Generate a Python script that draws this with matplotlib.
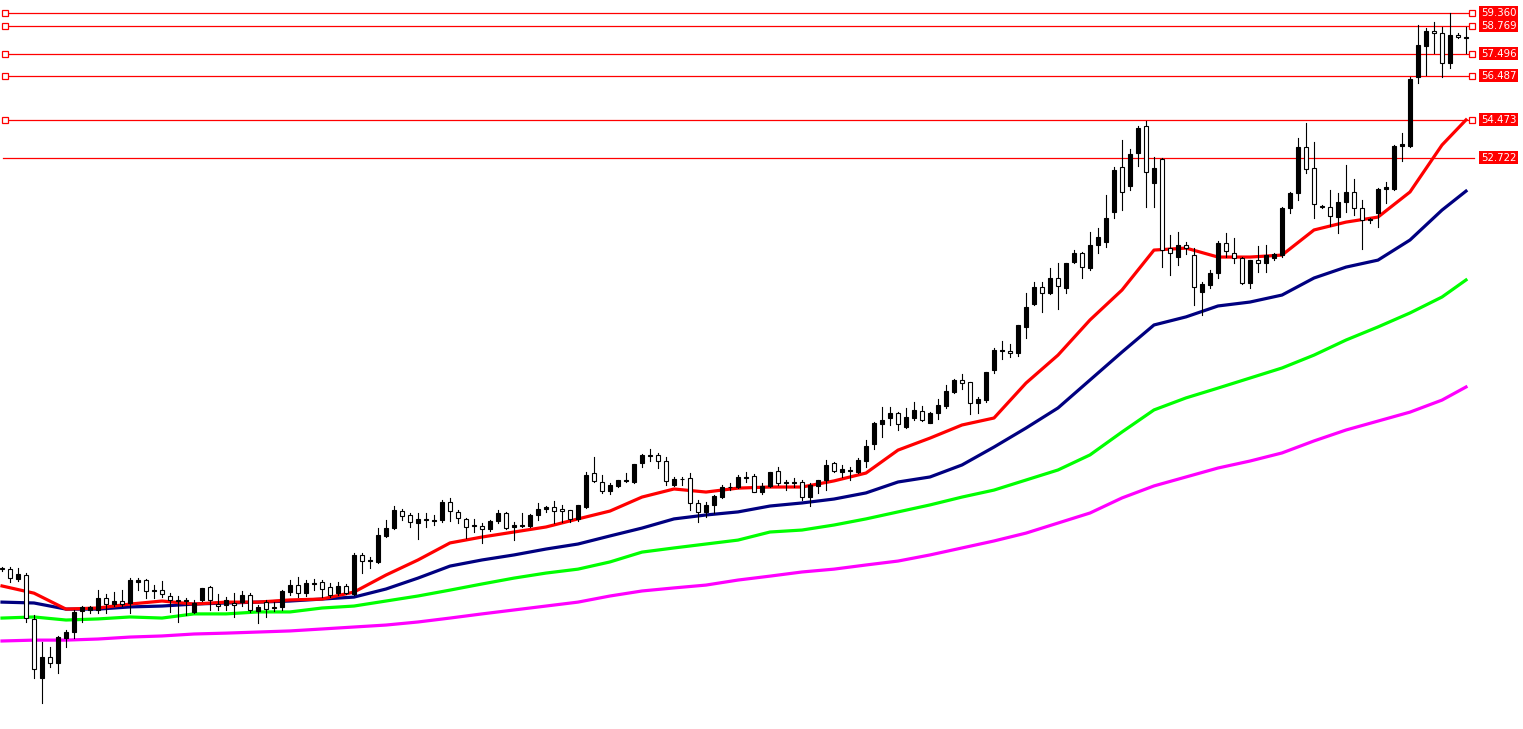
import matplotlib
matplotlib.use("Agg")
import matplotlib.pyplot as plt
from matplotlib.patches import Rectangle

# OHLC (price)
opens = [33.90, 33.90, 33.44, 33.63, 31.61, 28.91, 29.87, 29.60, 30.74, 31.01,
         31.97, 32.02, 32.02, 32.57, 32.29, 32.43, 32.34, 33.30, 33.39, 32.89,
         32.93, 32.66, 32.48, 32.43, 31.93, 32.48, 33.07, 32.29, 32.25, 32.34,
         32.38, 32.70, 31.97, 32.38, 32.11, 32.16, 32.84, 33.16, 32.79, 33.21,
         33.30, 33.07, 32.79, 33.12, 32.75, 34.54, 34.26, 34.22, 35.41, 35.77,
         36.55, 36.37, 36.00, 36.14, 36.09, 36.14, 36.96, 36.51, 36.19, 35.86,
         35.86, 35.73, 36.09, 36.46, 35.82, 35.86, 35.86, 36.37, 36.64, 36.73,
         36.64, 36.60, 36.19, 36.73, 38.29, 37.88, 37.47, 37.70, 37.92, 37.88,
         38.75, 39.07, 39.12, 38.84, 37.74, 38.02, 38.06, 36.92, 36.51, 36.83,
         37.19, 37.65, 37.65, 38.06, 38.15, 37.42, 37.70, 38.38, 37.83, 37.83,
         37.88, 37.19, 37.70, 37.97, 38.75, 38.34, 38.38, 38.34, 38.84, 39.62,
         40.54, 40.81, 41.04, 40.40, 40.81, 41.13, 40.58, 41.04, 41.36, 42.00,
         42.55, 42.46, 41.50, 41.63, 43.01, 43.88, 43.88, 43.79, 44.98, 46.03,
         46.81, 46.53, 47.22, 46.76, 47.95, 48.37, 47.68, 48.73, 48.87, 50.24,
         52.30, 51.43, 52.94, 54.18, 51.57, 52.67, 48.59, 48.18, 48.73, 48.27,
         46.58, 46.90, 47.45, 48.82, 48.37, 48.14, 46.99, 48.05, 47.91, 48.14,
         48.27, 50.42, 51.11, 53.22, 52.26, 50.52, 50.47, 50.01, 50.70, 51.16,
         50.42, 49.88, 50.20, 51.29, 51.29, 53.27, 53.27, 56.42, 57.84, 58.53,
         58.44, 57.07, 58.35, 58.21]
highs = [33.99, 33.99, 33.94, 33.72, 31.79, 30.55, 30.33, 30.83, 31.10, 32.02,
         32.20, 32.20, 32.93, 32.75, 32.84, 32.93, 33.49, 33.49, 33.44, 33.16,
         33.35, 32.79, 32.66, 32.57, 32.48, 33.03, 33.12, 32.75, 32.61, 32.79,
         32.89, 32.79, 32.25, 32.48, 32.38, 32.93, 33.39, 33.53, 33.39, 33.44,
         33.39, 33.25, 33.30, 33.21, 34.63, 34.63, 34.45, 35.77, 36.14, 36.78,
         36.64, 36.46, 36.46, 36.46, 36.37, 37.05, 37.15, 36.60, 36.23, 36.19,
         36.00, 36.14, 36.60, 36.51, 36.05, 36.46, 36.41, 36.92, 36.78, 37.01,
         36.83, 36.60, 36.83, 38.34, 39.02, 38.20, 37.83, 37.97, 38.29, 38.70,
         39.16, 39.39, 39.21, 39.02, 38.11, 38.11, 38.29, 37.05, 36.96, 37.28,
         37.74, 37.83, 38.20, 38.34, 38.24, 37.83, 38.34, 38.57, 37.97, 38.06,
         37.97, 37.83, 37.97, 38.89, 38.80, 38.66, 38.57, 38.98, 39.80, 40.63,
         41.31, 41.31, 41.08, 41.27, 41.54, 41.36, 41.08, 41.68, 42.32, 42.60,
         42.82, 42.46, 41.77, 42.92, 44.01, 44.34, 44.20, 45.07, 46.53, 47.04,
         47.04, 47.68, 47.91, 47.91, 48.50, 48.41, 49.33, 49.51, 51.02, 52.30,
         53.54, 53.13, 54.18, 54.41, 52.76, 52.72, 49.19, 49.33, 48.87, 48.59,
         47.04, 47.59, 48.91, 49.28, 49.05, 48.18, 48.05, 48.68, 48.73, 48.37,
         50.47, 51.16, 53.63, 54.32, 53.45, 50.56, 51.25, 51.11, 52.39, 51.75,
         50.79, 49.97, 51.34, 51.62, 53.31, 53.86, 56.42, 58.81, 58.67, 58.94,
         58.71, 59.35, 58.44, 58.71]
lows = [33.80, 33.30, 33.35, 31.47, 28.91, 27.76, 29.41, 29.14, 30.33, 30.74,
        31.47, 31.88, 31.88, 31.88, 32.20, 32.20, 31.88, 32.93, 32.57, 32.57,
        32.61, 31.93, 31.47, 31.79, 31.88, 32.43, 32.02, 32.02, 32.02, 31.70,
        32.20, 31.93, 31.42, 31.70, 31.97, 32.02, 32.70, 32.61, 32.66, 32.93,
        32.61, 32.61, 32.70, 32.75, 32.70, 33.71, 33.94, 34.17, 35.36, 35.73,
        36.14, 35.82, 35.27, 35.82, 35.91, 36.05, 36.09, 36.00, 35.31, 35.59,
        35.08, 35.63, 36.00, 35.73, 35.22, 35.82, 35.82, 36.14, 36.51, 36.00,
        36.05, 36.05, 36.09, 36.69, 37.88, 37.38, 37.33, 37.65, 37.88, 37.83,
        38.57, 38.84, 38.52, 37.74, 37.70, 37.74, 36.60, 36.05, 36.28, 36.46,
        37.15, 37.51, 37.60, 37.88, 37.42, 37.33, 37.65, 37.74, 37.51, 37.65,
        37.05, 36.78, 37.38, 37.51, 38.34, 38.11, 37.97, 38.29, 38.57, 39.39,
        39.94, 40.49, 40.26, 40.35, 40.72, 40.67, 40.58, 40.76, 41.27, 41.95,
        42.14, 40.99, 41.04, 41.54, 42.87, 43.51, 43.60, 43.65, 44.47, 45.99,
        45.66, 46.49, 45.80, 46.53, 47.91, 47.22, 47.59, 48.37, 48.64, 49.97,
        50.33, 51.25, 52.35, 50.47, 50.47, 47.72, 47.36, 47.82, 48.32, 45.99,
        45.53, 46.76, 47.22, 48.18, 47.91, 46.95, 46.76, 47.50, 47.50, 48.05,
        48.18, 50.20, 50.79, 52.03, 49.97, 50.42, 49.60, 49.28, 50.24, 50.10,
        48.55, 49.74, 49.56, 50.65, 51.25, 52.58, 53.22, 56.15, 56.52, 57.52,
        56.42, 56.84, 58.21, 57.52]
closes = [33.90, 33.48, 33.67, 31.66, 29.32, 29.87, 29.60, 30.78, 31.01, 31.93,
          32.16, 32.16, 32.57, 32.29, 32.43, 32.29, 33.39, 33.39, 32.89, 32.93,
          32.75, 32.48, 32.43, 32.45, 32.34, 33.03, 32.48, 32.20, 32.48, 32.25,
          32.70, 32.02, 32.16, 32.06, 32.16, 32.89, 33.16, 32.79, 33.25, 33.25,
          32.98, 32.70, 33.12, 32.79, 34.54, 34.26, 34.31, 35.45, 35.77, 36.60,
          36.32, 36.05, 36.19, 36.16, 36.14, 36.96, 36.55, 36.23, 35.82, 35.88,
          35.73, 36.09, 36.46, 35.77, 35.91, 35.88, 36.37, 36.64, 36.73, 36.55,
          36.55, 36.19, 36.83, 38.20, 37.92, 37.47, 37.74, 37.97, 37.97, 38.70,
          39.12, 39.09, 38.84, 37.92, 38.02, 38.00, 36.92, 36.51, 36.83, 37.24,
          37.65, 37.63, 38.11, 38.11, 37.42, 37.70, 38.34, 37.83, 37.85, 37.88,
          37.19, 37.74, 37.97, 38.66, 38.38, 38.47, 38.43, 38.89, 39.53, 40.58,
          40.72, 41.04, 40.54, 40.86, 41.18, 40.72, 41.04, 41.40, 42.05, 42.55,
          42.41, 41.50, 41.68, 42.92, 43.92, 43.94, 43.79, 45.07, 45.89, 46.81,
          46.53, 47.22, 46.85, 47.91, 48.37, 47.72, 48.73, 49.10, 49.97, 52.17,
          51.16, 52.90, 54.09, 52.07, 52.26, 48.50, 48.37, 48.73, 48.59, 46.81,
          46.95, 47.45, 48.82, 48.46, 48.14, 46.99, 48.05, 47.91, 48.27, 48.32,
          50.42, 51.11, 53.22, 52.21, 50.61, 50.47, 50.06, 50.70, 51.16, 50.42,
          49.88, 49.92, 51.29, 51.39, 53.27, 53.36, 56.33, 57.89, 58.53, 58.44,
          57.07, 58.35, 58.26, 58.23]

# moving averages read every 4 bars (last at bar 183)
ma_idx = list(range(0, 181, 4)) + [183]
ma_red = [33.12, 32.79, 32.06, 32.11, 32.29, 32.43, 32.29, 32.38, 32.38, 32.48,
          32.52, 32.84, 33.62, 34.31, 35.09, 35.36, 35.59, 35.82, 36.19, 36.55,
          37.19, 37.56, 37.42, 37.60, 37.65, 37.65, 37.93, 38.29, 39.34, 39.89,
          40.49, 40.81, 42.41, 43.69, 45.30, 46.67, 48.50, 48.59, 48.18, 48.18,
          48.27, 49.42, 49.78, 50.01, 51.16, 53.31, 54.46]
ma_navy = [32.38, 32.34, 32.06, 32.06, 32.16, 32.20, 32.29, 32.34, 32.38, 32.43,
           32.52, 32.61, 32.98, 33.48, 34.03, 34.31, 34.54, 34.81, 35.04, 35.41,
           35.77, 36.19, 36.37, 36.51, 36.78, 36.92, 37.10, 37.38, 37.88, 38.11,
           38.66, 39.48, 40.35, 41.27, 42.55, 43.83, 45.07, 45.44, 45.94, 46.12,
           46.44, 47.22, 47.72, 48.04, 48.96, 50.33, 51.20]
ma_green = [31.65, 31.70, 31.56, 31.61, 31.70, 31.65, 31.84, 31.84, 31.93, 31.93,
            32.11, 32.20, 32.43, 32.66, 32.93, 33.21, 33.48, 33.71, 33.89, 34.22,
            34.67, 34.86, 35.04, 35.22, 35.59, 35.68, 35.91, 36.19, 36.51, 36.83,
            37.19, 37.51, 37.97, 38.43, 39.12, 40.17, 41.18, 41.73, 42.18, 42.64,
            43.10, 43.69, 44.38, 44.98, 45.62, 46.35, 47.13]
ma_magenta = [30.60, 30.64, 30.64, 30.69, 30.78, 30.83, 30.92, 30.96, 31.01, 31.06,
              31.15, 31.24, 31.33, 31.47, 31.65, 31.84, 32.02, 32.20, 32.38, 32.66,
              32.89, 33.03, 33.16, 33.39, 33.57, 33.76, 33.89, 34.08, 34.26, 34.54,
              34.86, 35.18, 35.54, 36.00, 36.46, 37.15, 37.70, 38.11, 38.52, 38.84,
              39.21, 39.76, 40.26, 40.67, 41.08, 41.63, 42.23]

levels = [59.360, 58.769, 57.496, 56.487, 54.473, 52.722]
level_markers = [True, True, True, True, True, False]

fig = plt.figure(figsize=(15.23, 7.29), dpi=100)
ax = fig.add_axes([0, 0, 1, 1])
ax.set_xlim(-0.25, 190.125)
ax.set_ylim(26.57, 59.95)
ax.axis("off")

for lv, mk in zip(levels, level_markers):
    ax.plot([0.1, 184.0], [lv, lv], color="#ff0000", lw=0.9, zorder=1)
    if mk:
        ax.plot([0.375, 183.75], [lv, lv], ls="none", marker="s", ms=4,
                mfc="white", mec="#ff0000", mew=0.9, zorder=5)
    ax.text(184.85, lv, f"{lv:.3f}", color="white", fontsize=7.3, va="center",
            ha="left", zorder=6,
            bbox=dict(boxstyle="square,pad=0.15", fc="#ff0000", ec="none"))

for ys, c in [(ma_magenta, "#ff00ff"), (ma_green, "#00ff00"),
              (ma_navy, "#000080"), (ma_red, "#ff0000")]:
    ax.plot(ma_idx, ys, color=c, lw=2.3, zorder=2, solid_joinstyle="round")

w = 0.6
for i, (o, h, l, c) in enumerate(zip(opens, highs, lows, closes)):
    ax.plot([i, i], [l, h], color="black", lw=0.8, zorder=3)
    bottom = min(o, c)
    height = max(abs(c - o), 0.03)
    face = "black" if c > o else "white"
    ax.add_patch(Rectangle((i - w / 2, bottom), w, height, fc=face,
                           ec="black", lw=0.8, zorder=4))

fig.savefig("out.png", dpi=100)
